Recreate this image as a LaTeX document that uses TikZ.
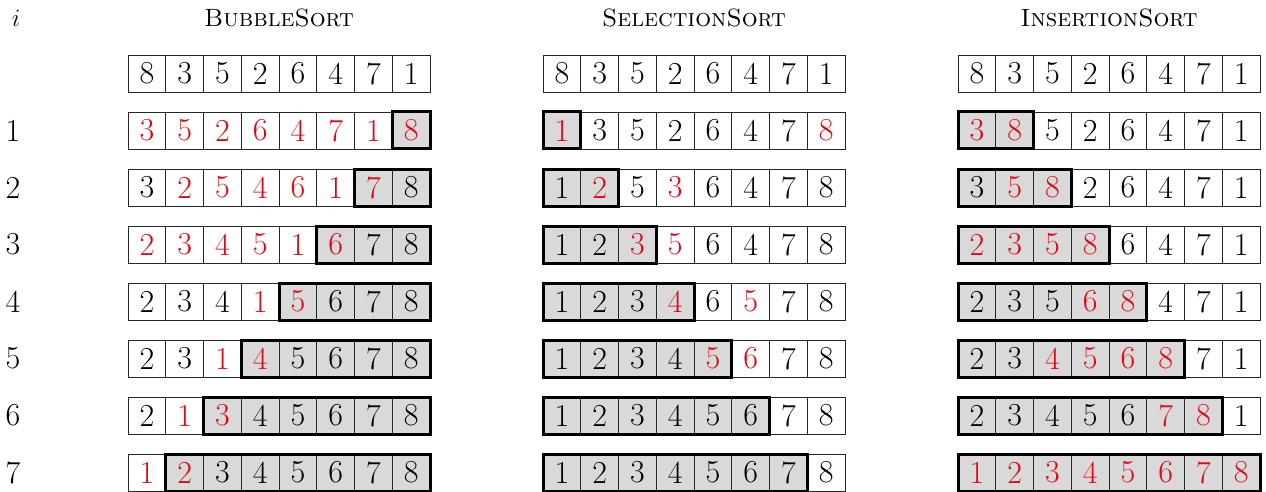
\documentclass[tikz,border=0pt]{standalone}
\definecolor{R}{RGB}{227,6,19}
\colorlet{K}{black}
\definecolor{cellgray}{RGB}{217,217,217}
\tikzset{
  cell/.style={draw=black!85, line width=0.9pt, minimum width=37.75pt, minimum height=37pt,
    inner sep=0pt, outer sep=0pt, anchor=north west, font=\fontsize{32}{32}\selectfont},
  boxline/.style={draw=black, line width=3pt},
  title/.style={font=\fontsize{25}{25}\selectfont\scshape, anchor=base},
  rowlab/.style={font=\fontsize{32}{32}\selectfont}
}
% #1 name, #2 x0, #3 ytop, #4 list value/colour, #5 box start, #6 box end
\newcommand\sortrow[6]{%
  \foreach \v/\c [count=\j] in {#4} {%
    \pgfmathtruncatemacro\inbox{(\j>=#5)&&(\j<=#6)}%
    \ifnum\inbox=1 \def\fc{cellgray}\else\def\fc{white}\fi
    \node[cell, fill=\fc, text=\c] (#1-\j) at ({#2+(\j-1)*37.75}, #3) {\v};
  }%
  \ifnum#5>0 \draw[boxline] (#1-#5.north west) rectangle (#1-#6.south east);\fi
}
\begin{document}
\begin{tikzpicture}[x=1pt,y=-1pt]
\useasboundingbox (0,0) rectangle (1266,492);
% header
\node[font=\fontsize{31}{31}\selectfont, anchor=base] (ivar) at (16,27) {$i$};
\node[title] (tB) at (279,27) {BubbleSort};
\node[title] (tS) at (694,27) {SelectionSort};
\node[title] (tI) at (1109,27) {InsertionSort};
% row labels
\foreach \k in {1,...,7} {
  \node[rowlab] (lab\k) at (13, {112+57*(\k-1)+18.5}) {\k};
}
% initial rows
\sortrow{B0}{128}{55}{8/K,3/K,5/K,2/K,6/K,4/K,7/K,1/K}{0}{0}
\sortrow{S0}{543}{55}{8/K,3/K,5/K,2/K,6/K,4/K,7/K,1/K}{0}{0}
\sortrow{I0}{958}{55}{8/K,3/K,5/K,2/K,6/K,4/K,7/K,1/K}{0}{0}
% BubbleSort
\sortrow{B1}{128}{112}{3/R,5/R,2/R,6/R,4/R,7/R,1/R,8/R}{8}{8}
\sortrow{B2}{128}{169}{3/K,2/R,5/R,4/R,6/R,1/R,7/R,8/K}{7}{8}
\sortrow{B3}{128}{226}{2/R,3/R,4/R,5/R,1/R,6/R,7/K,8/K}{6}{8}
\sortrow{B4}{128}{283}{2/K,3/K,4/K,1/R,5/R,6/K,7/K,8/K}{5}{8}
\sortrow{B5}{128}{340}{2/K,3/K,1/R,4/R,5/K,6/K,7/K,8/K}{4}{8}
\sortrow{B6}{128}{397}{2/K,1/R,3/R,4/K,5/K,6/K,7/K,8/K}{3}{8}
\sortrow{B7}{128}{454}{1/R,2/R,3/K,4/K,5/K,6/K,7/K,8/K}{2}{8}
% SelectionSort
\sortrow{S1}{543}{112}{1/R,3/K,5/K,2/K,6/K,4/K,7/K,8/R}{1}{1}
\sortrow{S2}{543}{169}{1/K,2/R,5/K,3/R,6/K,4/K,7/K,8/K}{1}{2}
\sortrow{S3}{543}{226}{1/K,2/K,3/R,5/R,6/K,4/K,7/K,8/K}{1}{3}
\sortrow{S4}{543}{283}{1/K,2/K,3/K,4/R,6/K,5/R,7/K,8/K}{1}{4}
\sortrow{S5}{543}{340}{1/K,2/K,3/K,4/K,5/R,6/R,7/K,8/K}{1}{5}
\sortrow{S6}{543}{397}{1/K,2/K,3/K,4/K,5/K,6/K,7/K,8/K}{1}{6}
\sortrow{S7}{543}{454}{1/K,2/K,3/K,4/K,5/K,6/K,7/K,8/K}{1}{7}
% InsertionSort
\sortrow{I1}{958}{112}{3/R,8/R,5/K,2/K,6/K,4/K,7/K,1/K}{1}{2}
\sortrow{I2}{958}{169}{3/K,5/R,8/R,2/K,6/K,4/K,7/K,1/K}{1}{3}
\sortrow{I3}{958}{226}{2/R,3/R,5/R,8/R,6/K,4/K,7/K,1/K}{1}{4}
\sortrow{I4}{958}{283}{2/K,3/K,5/K,6/R,8/R,4/K,7/K,1/K}{1}{5}
\sortrow{I5}{958}{340}{2/K,3/K,4/R,5/R,6/R,8/R,7/K,1/K}{1}{6}
\sortrow{I6}{958}{397}{2/K,3/K,4/K,5/K,6/K,7/R,8/R,1/K}{1}{7}
\sortrow{I7}{958}{454}{1/R,2/R,3/R,4/R,5/R,6/R,7/R,8/R}{1}{8}
\end{tikzpicture}
\end{document}
